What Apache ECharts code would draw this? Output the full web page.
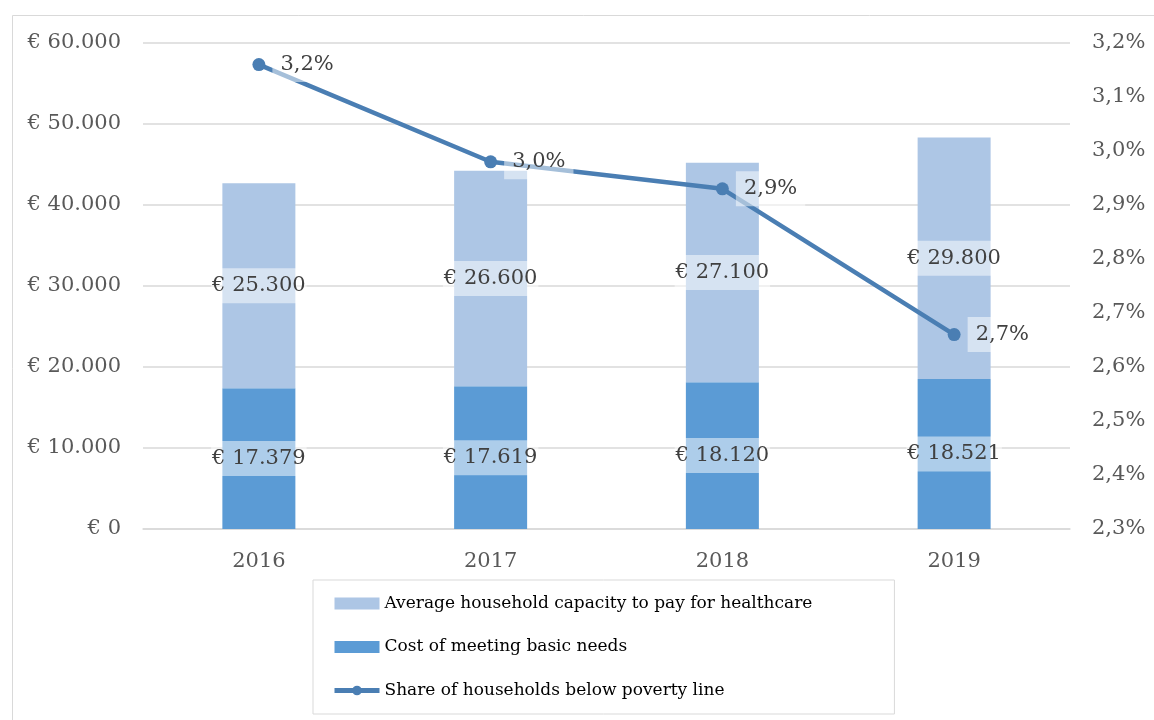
<!DOCTYPE html>
<html>
<head>
<meta charset="utf-8">
<script src="https://cdn.jsdelivr.net/npm/echarts@6/dist/echarts.min.js"></script>
<style>
  html, body { margin: 0; padding: 0; background: #fff; }
  #main { width: 1154px; height: 720px; }
</style>
</head>
<body>
<div id="main"></div>
<script>
var years = ['2016', '2017', '2018', '2019'];
var basicNeeds = [17379, 17619, 18120, 18521];
var capacity = [25300, 26600, 27100, 29800];
var povertyShare = [3.16, 2.98, 2.93, 2.66];

var FONT = 'DejaVu Serif';

function euro(v) {
    return '€ ' + String(Math.round(v)).replace(/\B(?=(\d{3})+(?!\d))/g, '.');
}
function pct(v) {
    return v.toFixed(1).replace('.', ',') + '%';
}

var chart = echarts.init(document.getElementById('main'));

var barLabel = {
    show: true,
    position: 'inside',
    fontFamily: FONT,
    fontSize: 21,
    color: '#404040',
    backgroundColor: 'rgba(255,255,255,0.5)',
    padding: [7, 1],
    formatter: function (p) { return euro(p.value); }
};

var option = {
    backgroundColor: '#fff',
    textStyle: { fontFamily: FONT },
    graphic: [{
        type: 'rect',
        left: 10,
        top: 13,
        shape: { width: 1300, height: 800 },
        style: { fill: 'none', stroke: '#d9d9d9', lineWidth: 1 },
        silent: true
    }],
    grid: { left: 143, right: 84, top: 43, bottom: 191 },
    legend: {
        orient: 'vertical',
        left: 313,
        top: 580,
        padding: [15, 82, 15, 19],
        itemGap: 26.5,
        itemWidth: 45,
        itemHeight: 12,
        borderColor: '#d9d9d9',
        borderWidth: 1,
        textStyle: { fontFamily: FONT, fontSize: 17, color: '#000' },
        data: [
            { name: 'Average household capacity to pay for healthcare', icon: 'rect' },
            { name: 'Cost of meeting basic needs', icon: 'rect' },
            { name: 'Share of households below poverty line', lineStyle: { width: 5 } }
        ]
    },
    xAxis: {
        type: 'category',
        data: years,
        axisLine: { lineStyle: { color: '#d9d9d9', width: 1.5 } },
        axisTick: { show: false },
        axisLabel: { fontFamily: FONT, fontSize: 21, color: '#595959', margin: 22 }
    },
    yAxis: [{
        type: 'value',
        min: 0,
        max: 60000,
        interval: 10000,
        axisLine: { show: false },
        axisTick: { show: false },
        splitLine: { lineStyle: { color: '#d9d9d9', width: 1.5 } },
        axisLabel: {
            fontFamily: FONT, fontSize: 21, color: '#595959', margin: 22,
            formatter: euro
        }
    }, {
        type: 'value',
        min: 2.3,
        max: 3.2,
        interval: 0.1,
        axisLine: { show: false },
        axisTick: { show: false },
        splitLine: { show: false },
        axisLabel: {
            fontFamily: FONT, fontSize: 21, color: '#595959', margin: 22,
            formatter: pct
        }
    }],
    series: [{
        name: 'Cost of meeting basic needs',
        type: 'bar',
        stack: 'total',
        data: basicNeeds,
        barWidth: '31.5%',
        itemStyle: { color: '#5b9bd5' },
        label: barLabel,
        z: 2
    }, {
        name: 'Average household capacity to pay for healthcare',
        type: 'bar',
        stack: 'total',
        data: capacity,
        itemStyle: { color: '#adc6e5' },
        label: barLabel,
        z: 2
    }, {
        name: 'Share of households below poverty line',
        type: 'line',
        yAxisIndex: 1,
        data: povertyShare,
        symbol: 'circle',
        symbolSize: 13,
        lineStyle: { color: '#4a7eb3', width: 4.5 },
        itemStyle: { color: '#4a7eb3' },
        label: {
            show: true,
            position: 'right',
            distance: 7,
            fontFamily: FONT,
            fontSize: 21,
            color: '#404040',
            backgroundColor: 'rgba(255,255,255,0.5)',
            padding: [7, 8],
            formatter: function (p) { return pct(p.value); }
        },
        z: 5
    }]
};

chart.setOption(option);
</script>
</body>
</html>
